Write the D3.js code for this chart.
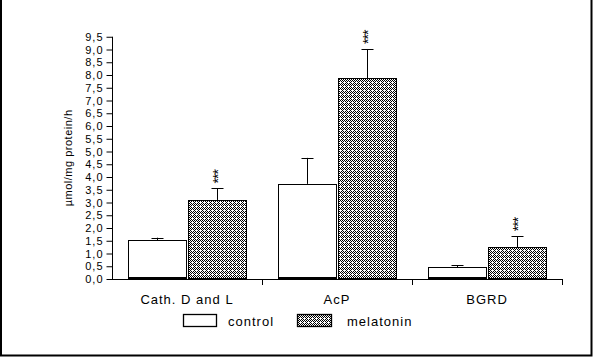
<!DOCTYPE html>
<html><head><meta charset="utf-8">
<script src="https://cdn.jsdelivr.net/npm/d3@7"></script>
<style>body{margin:0;background:#fff}svg{display:block}text{font-family:"Liberation Sans",Arial,sans-serif;fill:#000}</style>
</head><body><svg id="c" width="594" height="358"></svg>
<script>
const categories = ["Cath. D and L", "AcP", "BGRD"];
const series = ["control", "melatonin"];
const controlMean = [1.53, 3.73, 0.47];
const controlErr = [0.09, 1.02, 0.07];
const melatoninMean = [3.1, 7.88, 1.25];
const melatoninErr = [0.45, 1.14, 0.43];
const significance = ["***", "***", "***"];
const yTicks = d3.range(0, 9.51, 0.5);

const svg = d3.select("#c");
const defs = svg.append("defs");
const pat = defs.append("pattern").attr("id","hatch").attr("patternUnits","userSpaceOnUse")
  .attr("width",4).attr("height",4);
pat.append("rect").attr("width",4).attr("height",4).attr("fill","#fff");
const px = [[0,0],[1,1],[3,1],[2,2],[1,3],[3,3],[2,0]];
pat.selectAll("rect.p").data(px).join("rect").attr("class","p")
  .attr("x",d=>d[0]).attr("y",d=>d[1]).attr("width",1).attr("height",1).attr("fill","#000")
  .attr("shape-rendering","crispEdges");

// frame
svg.append("path").attr("d","M1,0V355.5H591.5V0").attr("fill","none").attr("stroke","#000").attr("stroke-width",2);

const x0 = 112, x1 = 562, yb = 279, yt = 36.75;
const y = d3.scaleLinear().domain([0,9.5]).range([yb,yt]);
const xg = d3.scaleBand().domain(categories).range([x0,x1]);
const xs = d3.scaleBand().domain(series).range([16,135]).paddingInner(0.02);

// y axis
const ya = svg.append("g").attr("transform",`translate(${x0+0.5},0)`)
  .call(d3.axisLeft(y).tickValues(yTicks).tickSize(6).tickPadding(3)
    .tickFormat(d=>d3.format(".1f")(d).replace(".",",")));
ya.select(".domain").remove();
ya.append("line").attr("x1",0).attr("x2",0).attr("y1",yb).attr("y2",yt).attr("stroke","#000");
ya.selectAll(".tick line").attr("stroke","#000");
ya.selectAll(".tick text").attr("font-size",11).attr("letter-spacing","1px").attr("fill","#000")
  .attr("font-family","'Liberation Sans',Arial,sans-serif");

svg.append("text").attr("transform",`translate(72,${(yb+yt)/2}) rotate(-90)`)
  .attr("text-anchor","middle").attr("font-size",11).attr("letter-spacing","0.5px").text("µmol/mg protein/h");

// x axis
svg.append("line").attr("x1",x0).attr("x2",x1).attr("y1",yb+0.5).attr("y2",yb+0.5).attr("stroke","#000");
const bounds = [xg.range()[0], ...categories.map(c=>xg(c)+xg.bandwidth())];
svg.selectAll("line.xt").data(bounds.slice(1)).join("line").attr("class","xt")
  .attr("x1",d=>d+0.5).attr("x2",d=>d+0.5).attr("y1",yb).attr("y2",yb+6).attr("stroke","#000");
svg.selectAll("text.cat").data(categories).join("text").attr("class","cat")
  .attr("x",c=>xg(c)+xg.bandwidth()/2).attr("y",yb+25).attr("text-anchor","middle")
  .attr("font-size",13).attr("letter-spacing","1px").text(c=>c);

// bars
const data = [];
categories.forEach((c,i)=>{
  data.push({c, s:"control", v:controlMean[i], e:controlErr[i], sig:null});
  data.push({c, s:"melatonin", v:melatoninMean[i], e:melatoninErr[i], sig:significance[i]});
});
const g = svg.append("g");
const bx = d=>Math.round(xg(d.c)+xs(d.s));
const bw = Math.round(xs.bandwidth());
g.selectAll("line.eb").data(data).join("line").attr("class","eb")
  .attr("x1",d=>bx(d)+bw/2).attr("x2",d=>bx(d)+bw/2)
  .attr("y1",d=>y(d.v)).attr("y2",d=>y(d.v+d.e)).attr("stroke","#000");
g.selectAll("line.cap").data(data).join("line").attr("class","cap")
  .attr("x1",d=>bx(d)+bw/2-6).attr("x2",d=>bx(d)+bw/2+6)
  .attr("y1",d=>Math.round(y(d.v+d.e))+0.5).attr("y2",d=>Math.round(y(d.v+d.e))+0.5).attr("stroke","#000");
g.selectAll("rect.bar").data(data).join("rect").attr("class","bar")
  .attr("x",d=>bx(d)+0.5).attr("y",d=>Math.round(y(d.v))+0.5)
  .attr("width",bw-1).attr("height",d=>yb-Math.round(y(d.v))-1)
  .attr("fill",d=>d.s==="control"?"#fff":"url(#hatch)").attr("stroke","#000").attr("stroke-width",1.3)
  .attr("shape-rendering","crispEdges");
g.selectAll("line.base").data(data.filter(d=>d.s==="control")).join("line").attr("class","base")
  .attr("x1",d=>bx(d)).attr("x2",d=>bx(d)+bw).attr("y1",yb-1).attr("y2",yb-1).attr("stroke","#000").attr("stroke-width",2);
g.selectAll("text.sig").data(data.filter(d=>d.sig)).join("text").attr("class","sig")
  .attr("transform",d=>`translate(${bx(d)+bw/2+5},${y(d.v+d.e)-5}) rotate(-90)`)
  .attr("font-size",14).attr("letter-spacing","-1px").text(d=>d.sig);

// legend
const leg = svg.append("g");
leg.append("rect").attr("x",183.5).attr("y",314.5).attr("width",33).attr("height",12)
  .attr("fill","#fff").attr("stroke","#000").attr("stroke-width",1.3);
leg.append("text").attr("x",228).attr("y",326).attr("font-size",13).attr("letter-spacing","1px").text(series[0]);
leg.append("rect").attr("x",297.5).attr("y",314.5).attr("width",34).attr("height",12)
  .attr("fill","url(#hatch)").attr("stroke","#000").attr("stroke-width",1.3);
leg.append("text").attr("x",347).attr("y",326).attr("font-size",13).attr("letter-spacing","1px").text(series[1]);
</script></body></html>
